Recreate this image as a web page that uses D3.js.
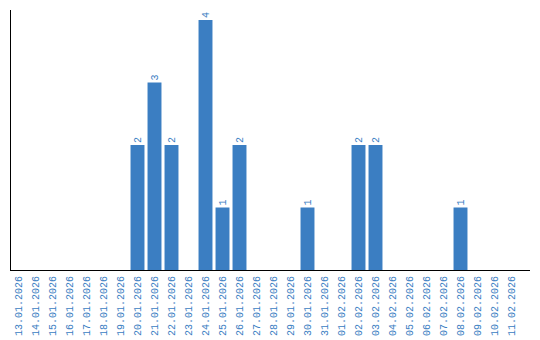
<!DOCTYPE html>
<head>
<meta charset="utf-8">
<style>
body { margin: 0; background: #fff; }
.lbl { font-family: "Liberation Mono", "Courier New", monospace; font-size: 10px; fill: #3a7dc2; }
.bar { fill: #3b7ec2; }
</style>
<script src="https://d3js.org/d3.v7.min.js"></script>
</head>
<body>
<div id="chart"></div>
<script>
var dates = ["13.01.2026","14.01.2026","15.01.2026","16.01.2026","17.01.2026","18.01.2026",
	"19.01.2026","20.01.2026","21.01.2026","22.01.2026","23.01.2026","24.01.2026","25.01.2026",
	"26.01.2026","27.01.2026","28.01.2026","29.01.2026","30.01.2026","31.01.2026","01.02.2026",
	"02.02.2026","03.02.2026","04.02.2026","05.02.2026","06.02.2026","07.02.2026","08.02.2026",
	"09.02.2026","10.02.2026","11.02.2026"];
var counts = [0,0,0,0,0,0,0,2,3,2,0,4,1,2,0,0,0,1,0,0,2,2,0,0,0,0,1,0,0,0];

var width = 540, height = 340;
var baseY = 270, topY = 20;

var svg = d3.select('#chart').append('svg')
	.attr('width', width)
	.attr('height', height);

var x = d3.scaleBand()
	.domain(dates)
	.range([10, 520])
	.paddingInner(0.18)
	.paddingOuter(0.09);

var y = d3.scaleLinear()
	.domain([0, 4])
	.range([baseY, topY]);

var data = dates.map(function(d, i) { return {date: d, v: counts[i]}; });
var nonZero = data.filter(function(d) { return d.v > 0; });

svg.selectAll('.bar')
	.data(nonZero)
	.enter().append('rect')
		.attr('class', 'bar')
		.attr('x', function(d) { return x(d.date); })
		.attr('width', x.bandwidth())
		.attr('y', function(d) { return y(d.v); })
		.attr('height', function(d) { return baseY - y(d.v); });

// value labels
svg.selectAll('.val')
	.data(nonZero)
	.enter().append('text')
		.attr('class', 'lbl')
		.attr('text-anchor', 'start')
		.attr('transform', function(d) {
			return 'translate(' + (x(d.date) + x.bandwidth() / 2 + 3.5) + ',' + (y(d.v) - 2) + ') rotate(-90)';
		})
		.text(function(d) { return d.v; });

// axes lines
svg.append('line')
	.attr('x1', 10.5).attr('x2', 10.5)
	.attr('y1', 10).attr('y2', baseY)
	.attr('stroke', '#000');
svg.append('line')
	.attr('x1', 10).attr('x2', 530)
	.attr('y1', baseY + 0.5).attr('y2', baseY + 0.5)
	.attr('stroke', '#000');

// date labels
svg.selectAll('.date')
	.data(dates)
	.enter().append('text')
		.attr('class', 'lbl')
		.attr('text-anchor', 'end')
		.attr('transform', function(d) {
			return 'translate(' + (x(d) + x.bandwidth() / 2 + 3.5) + ',' + (baseY + 6) + ') rotate(-90)';
		})
		.text(function(d) { return d; });
</script>
</body>
